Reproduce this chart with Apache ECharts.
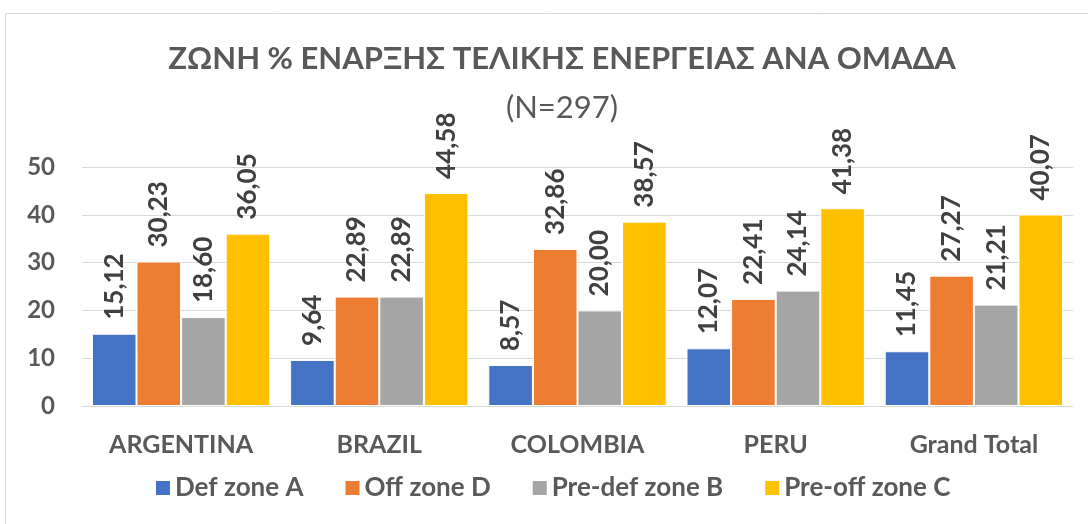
<!DOCTYPE html>
<html><head><meta charset="utf-8">
<script src="https://cdn.jsdelivr.net/npm/echarts@6/dist/echarts.min.js"></script>
<style>html,body{margin:0;padding:0;background:#fff}#c{width:1088px;height:524px}</style>
</head><body><div id="c"></div>
<script>
const categories = ['ARGENTINA','BRAZIL','COLOMBIA','PERU','Grand Total'];
const seriesNames = ['Def zone A','Off zone D','Pre-def zone B','Pre-off zone C'];
const defZoneA = [15.12, 9.64, 8.57, 12.07, 11.45];
const offZoneD = [30.23, 22.89, 32.86, 22.41, 27.27];
const preDefZoneB = [18.60, 22.89, 20.00, 24.14, 21.21];
const preOffZoneC = [36.05, 44.58, 38.57, 41.38, 40.07];
const colors = ['#4472C4','#ED7D31','#A5A5A5','#FFC000'];
const FONT = 'Lato, "Open Sans", sans-serif';
const allData = [defZoneA, offZoneD, preDefZoneB, preOffZoneC];
const chart = echarts.init(document.getElementById('c'));
chart.setOption({
  animation:false,
  graphic:[{type:'rect',shape:{x:5.5,y:13.5,width:1100,height:530},style:{fill:'none',stroke:'#d9d9d9',lineWidth:1}}],
  title:{text:'ΖΩΝΗ % ΕΝΑΡΞΗΣ ΤΕΛΙΚΗΣ ΕΝΕΡΓΕΙΑΣ ΑΝΑ ΟΜΑΔΑ',left:557,textAlign:'center',top:38,
    textStyle:{fontFamily:FONT,fontSize:31,fontWeight:'bold',color:'#595959'},
    subtext:'(N=297)',itemGap:18,
    subtextStyle:{fontFamily:FONT,fontSize:31,color:'#595959'}},
  legend:{bottom:18,left:149,itemWidth:16,itemHeight:16,itemGap:40,icon:'rect',
    textStyle:{fontFamily:FONT,fontSize:26,fontWeight:'bold',color:'#595959',padding:[0,0,0,-1]},data:seriesNames},
  grid:{left:82,right:15,top:167,bottom:118,containLabel:false},
  xAxis:{type:'category',data:categories,
    axisLine:{lineStyle:{color:'#d9d9d9'}},axisTick:{show:false},
    axisLabel:{fontFamily:FONT,fontSize:25,fontWeight:'bold',color:'#595959',margin:26}},
  yAxis:{type:'value',min:0,max:50,interval:10,
    axisLine:{show:false},axisTick:{show:false},
    splitLine:{lineStyle:{color:'#d9d9d9'}},
    axisLabel:{fontFamily:FONT,fontSize:24,fontWeight:'bold',color:'#595959',margin:27}},
  series: seriesNames.map((n,i)=>({
    name:n,type:'bar',data:allData[i],barGap:'0%',barCategoryGap:'10%',
    itemStyle:{color:colors[i],borderColor:'#fff',borderWidth:1},
    label:{show:true,position:'top',rotate:90,align:'left',verticalAlign:'middle',distance:14,
      fontFamily:FONT,fontSize:26,fontWeight:'bold',color:'#404040',
      formatter:p=>p.value.toFixed(2).replace('.',',')}
  }))
});
</script></body></html>
